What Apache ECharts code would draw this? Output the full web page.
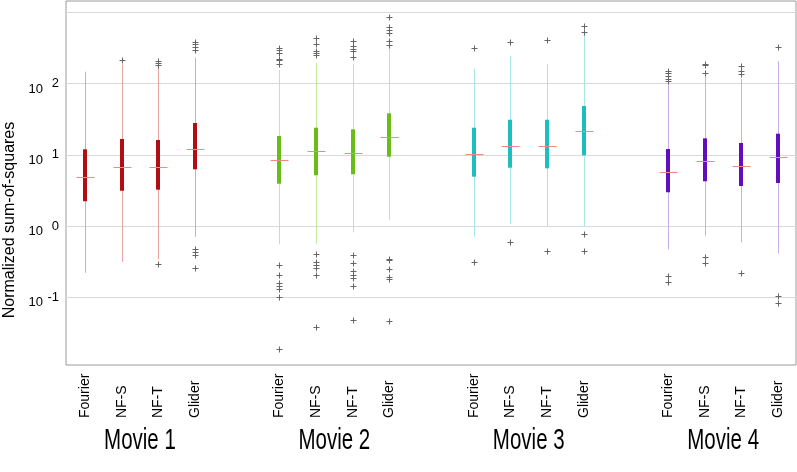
<!DOCTYPE html>
<html><head><meta charset="utf-8">
<script src="https://cdn.jsdelivr.net/npm/echarts@6/dist/echarts.min.js"></script>
<style>html,body{margin:0;padding:0;background:#fff}#c{width:797px;height:472px}</style>
</head><body><div id="c"></div>
<script>
const movies = ['Movie 1', 'Movie 2', 'Movie 3', 'Movie 4'];
const methods = ['Fourier', 'NF-S', 'NF-T', 'Glider'];
const yTickExponents = [-1, 0, 1, 2];

// Each box: [lower whisker, q1, median, q3, upper whisker], one per method
const movie1Boxes = [
  [0.221, 2.23, 4.83, 11.95, 146.6],
  [0.313, 3.13, 6.74, 16.66, 186.3],
  [0.341, 3.24, 6.74, 16.13, 172.4],
  [0.709, 6.26, 11.95, 27.94, 230.6]
];
const movie1Outliers = [
  [],
  [212],
  [209.3, 196.2, 183.9, 0.290],
  [386.6, 355.5, 325.9, 295.7, 0.472, 0.428, 0.389, 0.260]
];
const movie2Boxes = [
  [0.554, 3.93, 8.45, 18.36, 154.9],
  [0.565, 5.16, 11.20, 24.01, 196.2],
  [0.817, 5.33, 10.50, 22.80, 188.1],
  [1.216, 9.40, 17.78, 38.23, 329.0]
];
const movie2Outliers = [
  [318.5, 295.7, 271.0, 221.1, 216.1, 186.3, 0.281, 0.204, 0.157, 0.144, 0.132, 0.102, 0.0186],
  [440.0, 362.5, 289.1, 265.8, 251.6, 0.405, 0.313, 0.284, 0.255, 0.204, 0.0379],
  [399.4, 333.3, 302.5, 286.3, 238.2, 0.392, 0.300, 0.234, 0.204, 0.187, 0.144, 0.0480],
  [867.6, 628.1, 564.2, 507.3, 391.6, 344.2, 0.348, 0.334, 0.247, 0.195, 0.182, 0.0460]
];
const movie3Boxes = [
  [0.709, 4.93, 10.16, 24.01, 161.6],
  [1.068, 6.59, 13.42, 31.09, 243.6],
  [0.979, 6.46, 13.16, 31.09, 188.1],
  [0.979, 9.84, 21.37, 48.40, 507.3]
];
const movie3Outliers = [
  [312.4, 0.310],
  [379.3, 0.591],
  [404.6, 0.442],
  [642.4, 534.2, 0.774, 0.442]
];
const movie4Boxes = [
  [0.472, 2.98, 5.79, 12.06, 97.6],
  [0.732, 4.25, 8.11, 17.04, 124.8],
  [0.591, 3.65, 6.96, 14.64, 115.8],
  [0.415, 4.02, 9.31, 19.78, 207.3]
];
const movie4Outliers = [
  [151.5, 139.3, 127.6, 116.9, 109.6, 0.197, 0.162],
  [189.9, 180.3, 139.3, 0.364, 0.300],
  [174.7, 151.5, 136.1, 0.217],
  [329.0, 0.104, 0.084]
];

const boxColors = ['#b10d12', '#68be16', '#1fbebe', '#640cbf'];
const whiskerColors = ['#eaa3a3', '#c4e79c', '#a6e6e6', '#c9aeea'];
const medianColor = '#ec8a8a';

const allBoxes = [movie1Boxes, movie2Boxes, movie3Boxes, movie4Boxes];
const allOutliers = [movie1Outliers, movie2Outliers, movie3Outliers, movie4Outliers];

const GROUP_STRIDE = 5.31;
const pos = (g, i) => 1 + g * GROUP_STRIDE + i;

const boxData = [];
const outlierData = [];
const tickPositions = [];
allBoxes.forEach((boxes, g) => {
  boxes.forEach((b, i) => {
    boxData.push([pos(g, i), b[0], b[1], b[2], b[3], b[4], g]);
    tickPositions.push(pos(g, i));
    allOutliers[g][i].forEach(v => outlierData.push([pos(g, i), v]));
  });
});
const groupCenters = movies.map((m, g) => pos(g, 1.5));

const FONT = 'Liberation Sans, Arial, Helvetica, sans-serif';
const X_MIN = 0.48, X_MAX = 20.42;

const chart = echarts.init(document.getElementById('c'), null, {renderer: 'canvas'});
chart.setOption({
  animation: false,
  backgroundColor: '#fff',
  grid: {left: 66, right: 1, top: 1, bottom: 107, show: true, borderColor: '#9a9a9a', borderWidth: 1,
         backgroundColor: 'transparent', containLabel: false, outerBoundsMode: 'none'},
  xAxis: [{
    type: 'value', min: X_MIN, max: X_MAX,
    axisLine: {show: false}, axisTick: {show: false}, splitLine: {show: false},
    axisLabel: {
      customValues: tickPositions,
      formatter: v => {
        const idx = tickPositions.findIndex(p => Math.abs(p - v) < 1e-6);
        return idx >= 0 ? methods[idx % 4] : '';
      },
      rotate: 90, align: 'left', verticalAlign: 'middle', margin: 53,
      fontSize: 14, color: '#000', fontFamily: FONT
    }
  }],
  yAxis: {
    type: 'log', logBase: 10, min: 0.01122, max: 1441,
    axisLine: {show: false}, axisTick: {show: false},
    splitLine: {show: true, showMinLine: false, showMaxLine: false, lineStyle: {color: '#d9d9d9', width: 1}},
    axisLabel: {
      margin: 7,
      formatter: v => {
        const e = Math.log10(v);
        const r = Math.round(e);
        if (Math.abs(e - r) > 1e-6 || yTickExponents.indexOf(r) < 0) return '';
        return '{b|10}{e|' + r + '}';
      },
      rich: {
        b: {fontSize: 13, color: '#000', fontFamily: FONT, verticalAlign: 'bottom', lineHeight: 24, padding: [0, 2, 0, 0]},
        e: {fontSize: 13, color: '#000', fontFamily: FONT, verticalAlign: 'middle', lineHeight: 24, width: 14, align: 'right'}
      }
    }
  },
  series: [{
    type: 'custom',
    xAxisIndex: 0,
    data: boxData,
    encode: {x: 0, y: [1, 2, 3, 4, 5]},
    renderItem: (params, api) => {
      const x = api.value(0);
      const lo = api.coord([x, api.value(1)]);
      const q1 = api.coord([x, api.value(2)]);
      const md = api.coord([x, api.value(3)]);
      const q3 = api.coord([x, api.value(4)]);
      const hi = api.coord([x, api.value(5)]);
      const g = api.value(6);
      const cx = Math.round(lo[0]) + 0.5;
      return {type: 'group', children: [
        {type: 'line', shape: {x1: cx, y1: lo[1], x2: cx, y2: hi[1]},
         style: {stroke: whiskerColors[g], lineWidth: 1}},
        {type: 'rect', shape: {x: cx - 2.5, y: q3[1], width: 4, height: q1[1] - q3[1]},
         style: {fill: boxColors[g]}},
        {type: 'line', shape: {x1: cx - 9, y1: Math.round(md[1]) + 0.5, x2: cx + 9, y2: Math.round(md[1]) + 0.5},
         style: {stroke: medianColor, lineWidth: 1}}
      ]};
    }
  }, {
    type: 'custom',
    xAxisIndex: 0,
    data: outlierData,
    encode: {x: 0, y: 1},
    renderItem: (params, api) => {
      const p = api.coord([api.value(0), api.value(1)]);
      const cx = Math.round(p[0]) + 0.5, cy = Math.round(p[1]) + 0.5;
      const s = 3;
      return {type: 'group', children: [
        {type: 'line', shape: {x1: cx - s, y1: cy, x2: cx + s, y2: cy}, style: {stroke: '#666', lineWidth: 1}},
        {type: 'line', shape: {x1: cx, y1: cy - s, x2: cx, y2: cy + s}, style: {stroke: '#666', lineWidth: 1}}
      ]};
    }
  }]
});

// Axis title and group titles (group titles placed at group centres through the x axis scale)
const graphics = [{
  type: 'text', x: 9.5, y: 220, rotation: Math.PI / 2,
  style: {text: 'Normalized sum-of-squares', fontSize: 16, fontFamily: FONT, fill: '#000',
          align: 'center', verticalAlign: 'middle'}
}];
groupCenters.forEach((c, g) => {
  const px = chart.convertToPixel({xAxisIndex: 0}, c);
  graphics.push({
    type: 'text', x: px, y: 441, scaleY: 1.45,
    style: {text: movies[g], fontSize: 20.5, fontFamily: FONT, fill: '#000',
            align: 'center', verticalAlign: 'middle'}
  });
});
chart.setOption({graphic: graphics});
</script>
</body></html>
